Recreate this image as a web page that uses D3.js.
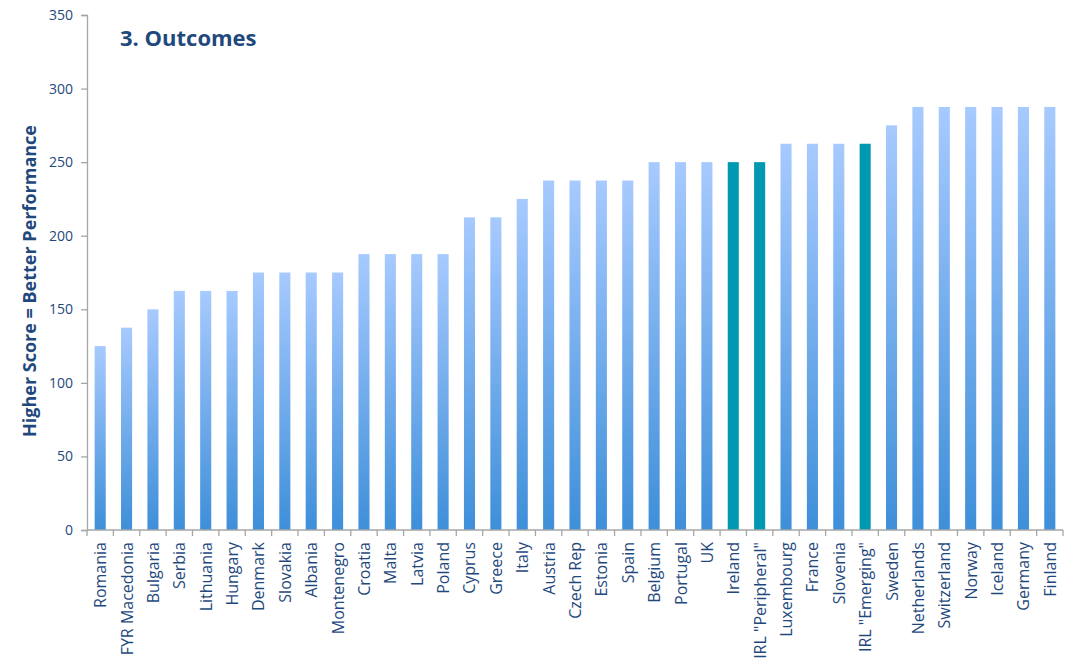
<!DOCTYPE html>
<html>
<head>
<meta charset="utf-8">
<script src="https://cdn.jsdelivr.net/npm/d3@7"></script>
<style>
  body { margin: 0; background: #fff; }
  svg text { font-family: "Open Sans", sans-serif; }
</style>
</head>
<body>
<svg id="chart" width="1085" height="665"></svg>
<script>
var countries = [ 'Romania', 'FYR Macedonia', 'Bulgaria', 'Serbia', 'Lithuania', 'Hungary',
    'Denmark', 'Slovakia', 'Albania', 'Montenegro', 'Croatia', 'Malta', 'Latvia', 'Poland',
    'Cyprus', 'Greece', 'Italy', 'Austria', 'Czech Rep', 'Estonia', 'Spain', 'Belgium',
    'Portugal', 'UK', 'Ireland', 'IRL "Peripheral"', 'Luxembourg', 'France', 'Slovenia',
    'IRL "Emerging"', 'Sweden', 'Netherlands', 'Switzerland', 'Norway', 'Iceland', 'Germany', 'Finland' ];
var scores = [ 125, 137.5, 150, 162.5, 162.5, 162.5,
    175, 175, 175, 175, 187.5, 187.5, 187.5, 187.5,
    212.5, 212.5, 225, 237.5, 237.5, 237.5, 237.5, 250,
    250, 250, 250, 250, 262.5, 262.5, 262.5,
    262.5, 275, 287.5, 287.5, 287.5, 287.5, 287.5, 287.5 ];
var highlighted = [ 'Ireland', 'IRL "Peripheral"', 'IRL "Emerging"' ];
var yTicks = [ 0, 50, 100, 150, 200, 250, 300, 350 ];

var textColor = '#1f497d',
    axisColor = '#a6a6a6',
    margin = { top: 15, left: 87, right: 22, bottom: 135 },
    svg = d3.select( '#chart' ),
    width = 1085 - margin.left - margin.right,
    height = 665 - margin.top - margin.bottom;

var defs = svg.append( 'defs' );
var grad = defs.append( 'linearGradient' )
    .attr( 'id', 'barGrad' )
    .attr( 'x1', 0 ).attr( 'y1', 0 )
    .attr( 'x2', 0 ).attr( 'y2', 1 );
grad.append( 'stop' ).attr( 'offset', '0%' ).attr( 'stop-color', '#a7caff' );
grad.append( 'stop' ).attr( 'offset', '100%' ).attr( 'stop-color', '#3e8fd9' );

var g = svg.append( 'g' )
    .attr( 'transform', 'translate(' + margin.left + ',' + margin.top + ')' );

var x = d3.scaleBand()
    .domain( countries )
    .range( [ 0, width ] )
    .paddingInner( 0.58 )
    .paddingOuter( 0.29 );

var y = d3.scaleLinear()
    .domain( [ 0, 350 ] )
    .range( [ height, 0 ] );

// bars
g.selectAll( '.bar' )
    .data( countries )
    .enter()
    .append( 'rect' )
    .attr( 'class', 'bar' )
    .attr( 'x', function ( d ) { return x( d ); } )
    .attr( 'y', function ( d, i ) { return y( scores[ i ] ); } )
    .attr( 'width', x.bandwidth() )
    .attr( 'height', function ( d, i ) { return height - y( scores[ i ] ); } )
    .attr( 'fill', function ( d ) {
        return highlighted.indexOf( d ) >= 0 ? '#0099b1' : 'url(#barGrad)';
    } );

// y axis
var yAxis = g.append( 'g' )
    .call( d3.axisLeft( y ).tickValues( yTicks ).tickSize( 6 ).tickPadding( 8 ) );
yAxis.select( '.domain' ).attr( 'stroke', axisColor ).attr( 'stroke-width', 1.3 );
yAxis.selectAll( '.tick line' ).attr( 'stroke', axisColor ).attr( 'stroke-width', 1.3 );
yAxis.selectAll( '.tick text' )
    .attr( 'fill', textColor )
    .style( 'font-size', '14px' );

// x axis, ticks sit between categories
var xAxis = g.append( 'g' )
    .attr( 'transform', 'translate(0,' + height + ')' );
xAxis.append( 'line' )
    .attr( 'x1', 0 ).attr( 'x2', width )
    .attr( 'stroke', axisColor ).attr( 'stroke-width', 1.3 );
xAxis.selectAll( '.sep' )
    .data( d3.range( countries.length + 1 ) )
    .enter()
    .append( 'line' )
    .attr( 'x1', function ( i ) { return i * x.step(); } )
    .attr( 'x2', function ( i ) { return i * x.step(); } )
    .attr( 'y1', 0 ).attr( 'y2', 6 )
    .attr( 'stroke', axisColor ).attr( 'stroke-width', 1.3 );
xAxis.selectAll( '.lbl' )
    .data( countries )
    .enter()
    .append( 'text' )
    .attr( 'transform', function ( d ) {
        return 'translate(' + ( x( d ) + x.bandwidth() / 2 + 6 ) + ',12) rotate(-90)';
    } )
    .attr( 'text-anchor', 'end' )
    .attr( 'fill', textColor )
    .style( 'font-size', '16px' )
    .text( function ( d ) { return d; } );

// titles
svg.append( 'text' )
    .attr( 'x', 120 )
    .attr( 'y', 46 )
    .attr( 'fill', textColor )
    .style( 'font-size', '22px' )
    .style( 'font-weight', 'bold' )
    .text( '3. Outcomes' );

svg.append( 'text' )
    .attr( 'transform', 'translate(36,' + 281 + ') rotate(-90)' )
    .attr( 'text-anchor', 'middle' )
    .attr( 'fill', textColor )
    .style( 'font-size', '18px' )
    .style( 'font-weight', 'bold' )
    .text( 'Higher Score = Better Performance' );
</script>
</body>
</html>
